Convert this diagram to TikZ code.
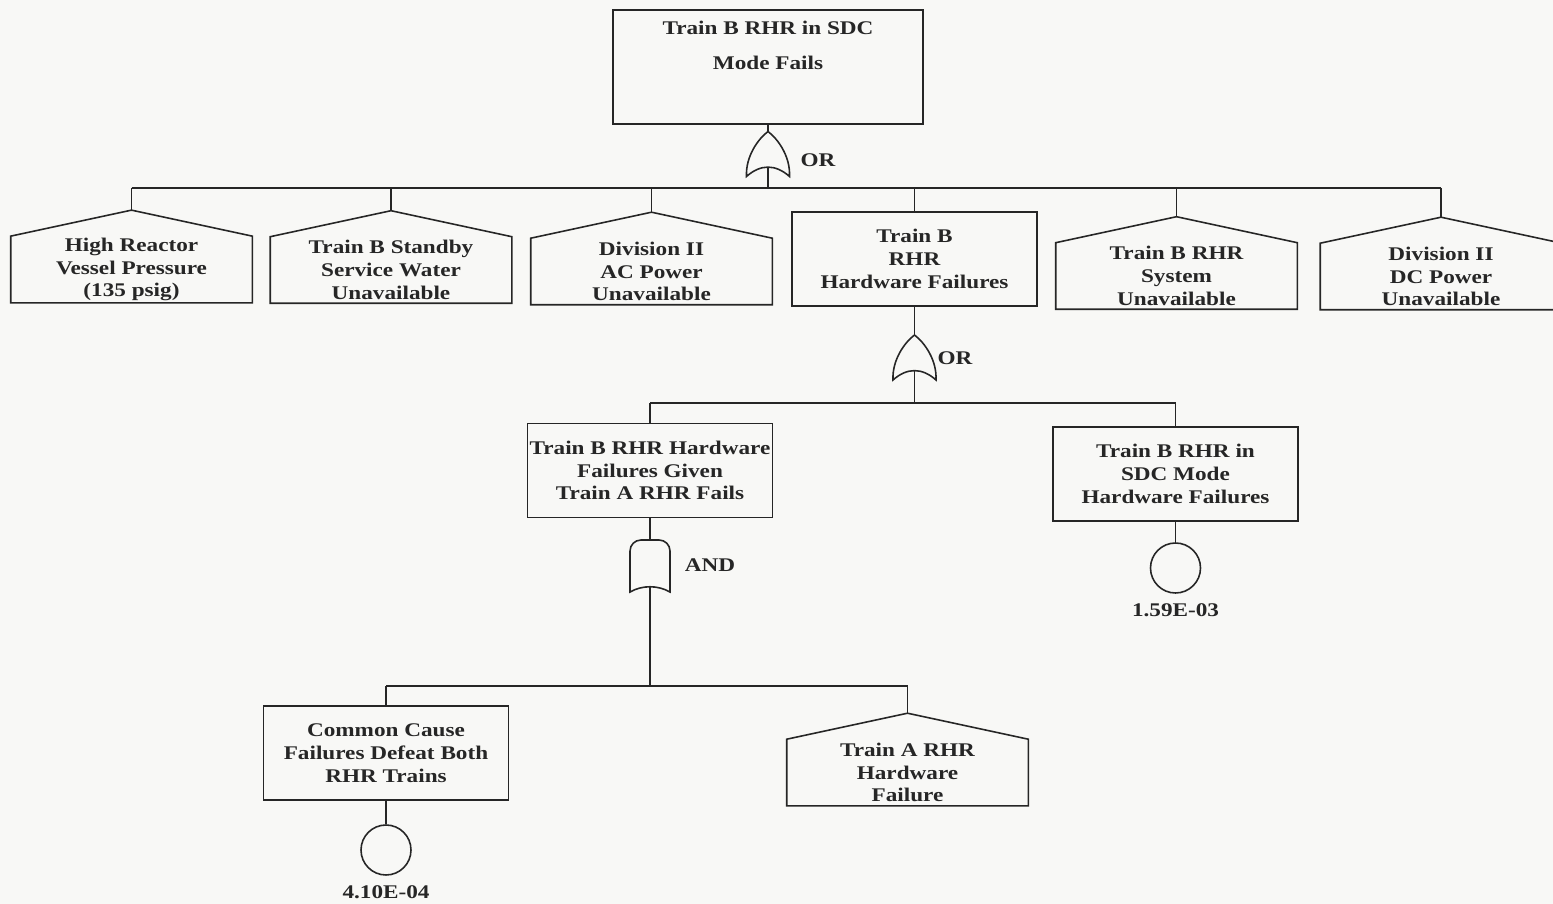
\documentclass[tikz,border=0pt]{standalone}
\usepackage{fontspec}
\setmainfont{Liberation Serif}[FakeStretch=1.2]
\usetikzlibrary{shapes.geometric}
\definecolor{ink}{RGB}{38,38,38}
\definecolor{paper}{RGB}{248,248,246}
\begin{document}
\begin{tikzpicture}[line width=0.9pt, ink]
    \tikzset{block/.style= {draw,
                            rectangle,
                            align=center,
                            font=\bfseries\fontsize{11}{13}\selectfont,
                            minimum width=4.9cm,
                            minimum height=1.88cm},
             house/.style= {align=center,
                            inner ysep=0.5pt,
                            font=\bfseries\fontsize{11}{13}\selectfont,
                            minimum width=4.8cm,
                            minimum height=1.3cm},
             basic/.style= {draw,
                            circle,
                            inner sep=0pt,
                            minimum size=1cm},
             gatelabel/.style= {font=\bfseries\fontsize{11}{13}\selectfont},
             orgate/.pic= {\draw (-0.43,-0.45) .. controls (-0.45,-0.05) and (-0.2,0.3) .. (0,0.45)
                                 .. controls (0.2,0.3) and (0.45,-0.05) .. (0.43,-0.45)
                                 .. controls (0.15,-0.2) and (-0.15,-0.2) .. cycle;
                           \coordinate (-top) at (0,0.45);
                           \coordinate (-base) at (0,-0.27);},
             andgate/.pic= {\draw[rounded corners=0.22cm] (-0.4,-0.52) -- (-0.4,0.52) -- (0.4,0.52)
                                 [sharp corners] -- (0.4,-0.52)
                                 .. controls (0.15,-0.38) and (-0.15,-0.38) .. cycle;
                            \coordinate (-top) at (0,0.52);
                            \coordinate (-base) at (0,-0.41);},
            }
    \path[use as bounding box, fill=paper] (0,0) rectangle (31.06,-18.08);
    \path
    (15.36,-1.34)  node[block, minimum width=6.2cm, minimum height=2.28cm,
                        text depth=24.5pt](top) {Train B RHR in SDC\\[7pt]Mode Fails}
    (2.63,-5.39)   node[house](hrp)   {High Reactor\\Vessel Pressure\\(135 psig)}
    (7.82,-5.40)   node[house](ssw)   {Train B Standby\\Service Water\\Unavailable}
    (13.03,-5.43)  node[house](acp)   {Division II\\AC Power\\Unavailable}
    (18.29,-5.18)  node[block](hwf)   {Train B\\RHR\\Hardware Failures}
    (23.53,-5.52)  node[house](sys)   {Train B RHR\\System\\Unavailable}
    (28.82,-5.53)  node[house](dcp)   {Division II\\DC Power\\Unavailable}
    (13.0,-9.41)   node[block, inner xsep=0pt](given) {Train B RHR Hardware\\Failures Given\\Train A RHR Fails}
    (23.51,-9.48)  node[block](sdc)   {Train B RHR in\\SDC Mode\\Hardware Failures}
    (23.51,-11.36) node[basic](e1)    {}
    (23.51,-12.2)  node[gatelabel](p1) {1.59E-03}
    (7.72,-15.06)  node[block](ccf)   {Common Cause\\Failures Defeat Both\\RHR Trains}
    (7.72,-17.0)   node[basic](e2)    {}
    (7.72,-17.84)  node[gatelabel](p2) {4.10E-04}
    (18.15,-15.45) node[house](tra)   {Train A RHR\\Hardware\\Failure}
    (16.36,-3.2)   node[gatelabel](l1) {OR}
    (19.1,-7.16)   node[gatelabel](l2) {OR}
    (14.2,-11.3)   node[gatelabel](l3) {AND}
    ;
    \pic (g1) at (15.36,-3.08) {orgate};
    \pic (g2) at (18.29,-7.15) {orgate};
    \pic (g3) at (13.0,-11.32) {andgate};
    \coordinate (j1) at (15.36,-3.76);
    \coordinate (j2) at (18.29,-8.06);
    \coordinate (j3) at (13.0,-13.72);
    \foreach \n in {hrp,ssw,acp,sys,dcp,tra}
    {
        \coordinate (\n-peak) at ([yshift=0.52cm]\n.north);
        \draw (\n.south west) -- (\n.north west) -- (\n-peak)
              -- (\n.north east) -- (\n.south east) -- cycle;
    }
    \draw (top) -- (g1-top);
    \draw (g1-base) -- (j1);
    \draw (j1 -| hrp-peak) -- (j1 -| dcp-peak);
    \foreach \n in {hrp,ssw,acp,sys,dcp}
        \draw (j1 -| \n-peak) -- (\n-peak);
    \draw (j1 -| hwf) -- (hwf);
    \draw (hwf) -- (g2-top);
    \draw (g2-base) -- (j2);
    \draw (j2 -| given) -- (j2 -| sdc);
    \draw (j2 -| given) -- (given);
    \draw (j2 -| sdc) -- (sdc);
    \draw (sdc) -- (e1);
    \draw (given) -- (g3-top);
    \draw (g3-base) -- (j3);
    \draw (j3 -| ccf) -- (j3 -| tra-peak);
    \draw (j3 -| ccf) -- (ccf);
    \draw (j3 -| tra-peak) -- (tra-peak);
    \draw (ccf) -- (e2);
\end{tikzpicture}
\end{document}
